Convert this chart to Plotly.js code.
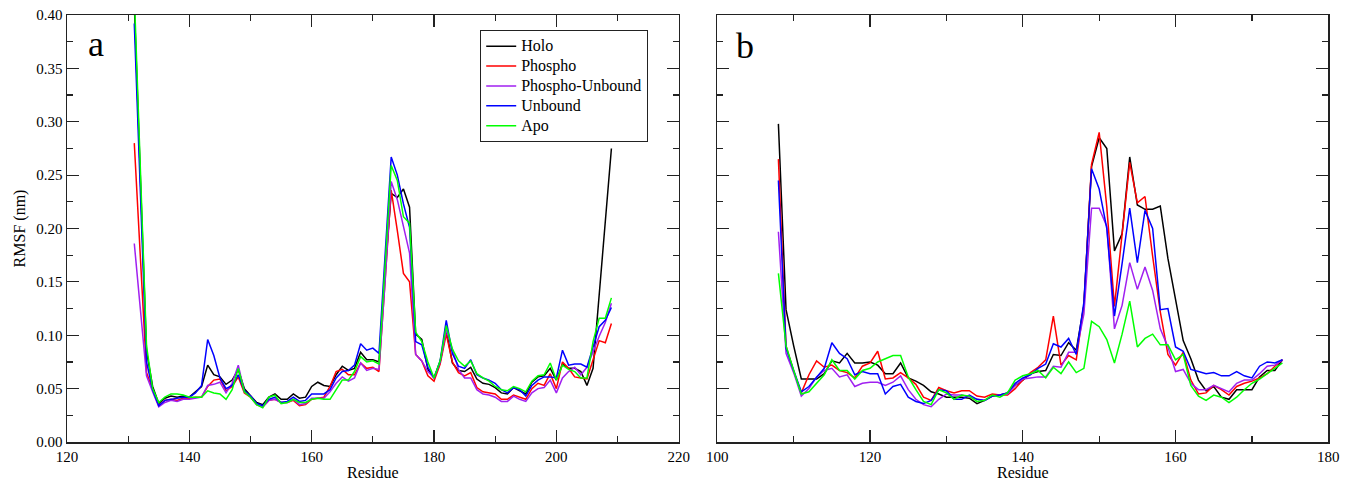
<!DOCTYPE html>
<html>
<head>
<meta charset="utf-8">
<script src="https://cdn.plot.ly/plotly-3.0.1.min.js"></script>
<style>
html,body{margin:0;padding:0;background:#fff;}
#chart{width:1349px;height:481px;}
svg text{font-family:"Liberation Serif","Times New Roman",serif !important;}
text.legendtext{font-size:16px !important;}
</style>
</head>
<body>
<div id="chart"></div>
<script>
// ---- Panel a: residues 131..209 ----
const firstResA = 131, lastResA = 209;
const holoA = [
  0.41, 0.24, 0.085, 0.052, 0.036, 0.041, 0.043, 0.042, 0.043, 0.042,
  0.047, 0.052, 0.072, 0.063, 0.061, 0.054, 0.058, 0.068, 0.050, 0.044,
  0.037, 0.035, 0.042, 0.045, 0.040, 0.040, 0.045, 0.041, 0.042, 0.052,
  0.056, 0.053, 0.052, 0.063, 0.071, 0.067, 0.069, 0.084, 0.077, 0.077,
  0.075, 0.160, 0.233, 0.229, 0.237, 0.220, 0.101, 0.096, 0.068, 0.060,
  0.075, 0.105, 0.074, 0.067, 0.066, 0.070, 0.059, 0.055, 0.054, 0.051,
  0.046, 0.045, 0.051, 0.048, 0.045, 0.056, 0.061, 0.062, 0.069, 0.058,
  0.073, 0.069, 0.069, 0.066, 0.053, 0.069, 0.135, 0.205, 0.275];
const phosphoA = [
  0.280, 0.17, 0.065, 0.049, 0.034, 0.039, 0.040, 0.039, 0.041, 0.041,
  0.042, 0.042, 0.052, 0.058, 0.059, 0.048, 0.052, 0.061, 0.046, 0.042,
  0.035, 0.033, 0.039, 0.040, 0.037, 0.037, 0.039, 0.034, 0.035, 0.040,
  0.041, 0.042, 0.052, 0.066, 0.068, 0.063, 0.063, 0.074, 0.069, 0.070,
  0.066, 0.150, 0.236, 0.198, 0.158, 0.150, 0.082, 0.076, 0.062, 0.057,
  0.073, 0.101, 0.075, 0.065, 0.062, 0.065, 0.051, 0.047, 0.046, 0.045,
  0.040, 0.040, 0.044, 0.042, 0.040, 0.050, 0.055, 0.053, 0.064, 0.050,
  0.075, 0.069, 0.061, 0.060, 0.059, 0.077, 0.095, 0.093, 0.111];
const phosphoUnA = [
  0.186, 0.12, 0.062, 0.047, 0.033, 0.037, 0.039, 0.038, 0.040, 0.040,
  0.041, 0.042, 0.053, 0.054, 0.056, 0.046, 0.055, 0.072, 0.047, 0.043,
  0.035, 0.033, 0.039, 0.040, 0.037, 0.037, 0.040, 0.035, 0.036, 0.041,
  0.041, 0.041, 0.047, 0.055, 0.061, 0.057, 0.060, 0.074, 0.067, 0.069,
  0.068, 0.150, 0.244, 0.227, 0.202, 0.177, 0.082, 0.076, 0.066, 0.060,
  0.075, 0.105, 0.087, 0.068, 0.060, 0.060, 0.049, 0.045, 0.044, 0.042,
  0.038, 0.038, 0.043, 0.040, 0.038, 0.046, 0.050, 0.051, 0.058, 0.046,
  0.060, 0.066, 0.070, 0.063, 0.070, 0.085, 0.099, 0.112, 0.130];
const unboundA = [
  0.392, 0.23, 0.075, 0.049, 0.034, 0.039, 0.040, 0.041, 0.042, 0.042,
  0.046, 0.053, 0.096, 0.081, 0.060, 0.050, 0.053, 0.063, 0.048, 0.043,
  0.036, 0.034, 0.040, 0.042, 0.037, 0.038, 0.042, 0.038, 0.039, 0.045,
  0.045, 0.045, 0.049, 0.060, 0.066, 0.067, 0.072, 0.092, 0.086, 0.088,
  0.083, 0.170, 0.267, 0.250, 0.223, 0.201, 0.094, 0.091, 0.070, 0.060,
  0.076, 0.114, 0.083, 0.071, 0.069, 0.077, 0.063, 0.060, 0.058, 0.055,
  0.049, 0.046, 0.051, 0.049, 0.043, 0.053, 0.058, 0.061, 0.061, 0.060,
  0.086, 0.072, 0.073, 0.073, 0.070, 0.089, 0.108, 0.114, 0.126];
const apoA = [
  0.42, 0.25, 0.090, 0.050, 0.037, 0.042, 0.045, 0.045, 0.044, 0.042,
  0.042, 0.042, 0.048, 0.046, 0.045, 0.040, 0.049, 0.069, 0.047, 0.042,
  0.035, 0.032, 0.042, 0.044, 0.036, 0.037, 0.040, 0.037, 0.037, 0.040,
  0.041, 0.040, 0.040, 0.049, 0.058, 0.058, 0.066, 0.080, 0.075, 0.076,
  0.073, 0.165, 0.259, 0.245, 0.211, 0.205, 0.103, 0.094, 0.075, 0.060,
  0.076, 0.109, 0.087, 0.076, 0.071, 0.076, 0.064, 0.060, 0.057, 0.052,
  0.049, 0.048, 0.052, 0.050, 0.047, 0.057, 0.062, 0.063, 0.074, 0.058,
  0.072, 0.068, 0.066, 0.060, 0.060, 0.094, 0.116, 0.116, 0.135];

// ---- Panel b: residues 108..174 ----
const firstResB = 108, lastResB = 174;
const holoB = [
  0.298, 0.124, 0.090, 0.059, 0.059, 0.059, 0.064, 0.076, 0.074, 0.083,
  0.074, 0.074, 0.075, 0.072, 0.064, 0.064, 0.074, 0.060, 0.057, 0.053,
  0.047, 0.045, 0.042, 0.042, 0.042, 0.041, 0.036, 0.039, 0.043, 0.044,
  0.046, 0.053, 0.058, 0.064, 0.066, 0.067, 0.082, 0.081, 0.093, 0.086,
  0.128, 0.258, 0.285, 0.275, 0.179, 0.195, 0.267, 0.222, 0.218, 0.218,
  0.221, 0.172, 0.133, 0.095, 0.078, 0.058, 0.048, 0.052, 0.042, 0.040,
  0.049, 0.049, 0.049, 0.061, 0.067, 0.067, 0.077];
const phosphoB = [
  0.265, 0.090, 0.066, 0.046, 0.063, 0.076, 0.070, 0.072, 0.067, 0.065,
  0.060, 0.071, 0.074, 0.085, 0.059, 0.060, 0.065, 0.060, 0.054, 0.042,
  0.039, 0.051, 0.048, 0.046, 0.048, 0.048, 0.043, 0.042, 0.045, 0.044,
  0.044, 0.050, 0.058, 0.065, 0.070, 0.077, 0.118, 0.072, 0.081, 0.077,
  0.128, 0.260, 0.290, 0.220, 0.127, 0.198, 0.262, 0.224, 0.230, 0.174,
  0.122, 0.082, 0.072, 0.084, 0.058, 0.045, 0.046, 0.053, 0.049, 0.044,
  0.052, 0.055, 0.057, 0.060, 0.064, 0.071, 0.077];
const phosphoUnB = [
  0.197, 0.083, 0.065, 0.043, 0.050, 0.061, 0.067, 0.069, 0.061, 0.063,
  0.052, 0.055, 0.056, 0.056, 0.053, 0.056, 0.062, 0.049, 0.040, 0.035,
  0.033, 0.040, 0.045, 0.044, 0.044, 0.042, 0.040, 0.039, 0.043, 0.044,
  0.045, 0.053, 0.059, 0.060, 0.061, 0.061, 0.071, 0.070, 0.084, 0.084,
  0.120, 0.219, 0.219, 0.202, 0.106, 0.128, 0.168, 0.143, 0.164, 0.142,
  0.106, 0.089, 0.066, 0.068, 0.055, 0.049, 0.049, 0.053, 0.050, 0.047,
  0.055, 0.058, 0.058, 0.064, 0.071, 0.072, 0.077];
const unboundB = [
  0.245, 0.088, 0.067, 0.047, 0.052, 0.060, 0.069, 0.093, 0.083, 0.078,
  0.063, 0.066, 0.064, 0.064, 0.045, 0.052, 0.054, 0.042, 0.038, 0.036,
  0.039, 0.049, 0.048, 0.040, 0.040, 0.044, 0.040, 0.039, 0.043, 0.044,
  0.046, 0.055, 0.060, 0.063, 0.069, 0.073, 0.092, 0.089, 0.097, 0.082,
  0.131, 0.256, 0.237, 0.200, 0.118, 0.167, 0.219, 0.168, 0.217, 0.200,
  0.124, 0.125, 0.089, 0.085, 0.068, 0.066, 0.064, 0.065, 0.062, 0.062,
  0.066, 0.062, 0.060, 0.071, 0.075, 0.074, 0.077];
const apoB = [
  0.158, 0.090, 0.067, 0.045, 0.047, 0.055, 0.063, 0.077, 0.067, 0.067,
  0.059, 0.067, 0.069, 0.075, 0.078, 0.081, 0.081, 0.061, 0.049, 0.038,
  0.035, 0.049, 0.046, 0.040, 0.044, 0.043, 0.038, 0.039, 0.044, 0.042,
  0.046, 0.058, 0.062, 0.064, 0.067, 0.060, 0.070, 0.064, 0.075, 0.065,
  0.069, 0.113, 0.108, 0.096, 0.074, 0.101, 0.132, 0.089, 0.097, 0.101,
  0.091, 0.091, 0.077, 0.082, 0.053, 0.043, 0.039, 0.044, 0.042, 0.037,
  0.042, 0.049, 0.055, 0.059, 0.064, 0.069, 0.074];

const seriesNames = ["Holo", "Phospho", "Phospho-Unbound", "Unbound", "Apo"];
const seriesColors = ["#000000", "#ff0000", "#a020f0", "#0000ff", "#00ff00"];
const yTickVals = [0, 0.05, 0.10, 0.15, 0.20, 0.25, 0.30, 0.35, 0.40];
const yTickText = ["0.00", "0.05", "0.10", "0.15", "0.20", "0.25", "0.30", "0.35", "0.40"];

function residues(a, b) { const r = []; for (let i = a; i <= b; i++) r.push(i); return r; }
const resA = residues(firstResA, lastResA);
const resB = residues(firstResB, lastResB);
const dataA = [holoA, phosphoA, phosphoUnA, unboundA, apoA];
const dataB = [holoB, phosphoB, phosphoUnB, unboundB, apoB];

const traces = [];
dataA.forEach((ys, i) => traces.push({
  x: resA, y: ys, type: "scatter", mode: "lines", name: seriesNames[i],
  line: {color: seriesColors[i], width: 1.5}, xaxis: "x", yaxis: "y", legendrank: i + 1
}));
dataB.forEach((ys, i) => traces.push({
  x: resB, y: ys, type: "scatter", mode: "lines", name: seriesNames[i], showlegend: false,
  line: {color: seriesColors[i], width: 1.5}, xaxis: "x2", yaxis: "y2"
}));

const W = 1349, H = 481, T = 15, B = 39;
const ph = H - T - B;
const serif = "Liberation Serif";
const axisCommon = {
  showgrid: false, zeroline: false, showline: true, linecolor: "#222", linewidth: 1.5,
  mirror: "allticks", ticks: "inside", ticklen: 12, tickwidth: 1.2, tickcolor: "#222",
  tickfont: {family: serif, size: 15, color: "#000"}, automargin: false
};
const layout = {
  width: W, height: H,
  font: {family: serif},
  margin: {l: 0, r: 0, t: T, b: B},
  paper_bgcolor: "#fff", plot_bgcolor: "#fff",
  showlegend: true,
  legend: {
    x: 480 / W, y: (442 - 30) / ph, xanchor: "left", yanchor: "top",
    bgcolor: "#fff", bordercolor: "#222", borderwidth: 1.2,
    font: {family: serif, size: 13, color: "#000"}, tracegroupgap: 0, itemwidth: 30
  },
  xaxis: Object.assign({}, axisCommon, {
    domain: [67 / W, 678.7 / W], range: [120, 220], anchor: "y",
    tickvals: [120, 140, 160, 180, 200, 220],
    minor: {ticks: "inside", tickvals: [130, 150, 170, 190, 210], ticklen: 6, tickcolor: "#222", tickwidth: 1.2},
    title: {text: "Residue", font: {family: serif, size: 16, color: "#000"}, standoff: 4}
  }),
  yaxis: Object.assign({}, axisCommon, {
    domain: [0, 1], range: [0, 0.4], anchor: "x",
    tickvals: yTickVals, ticktext: yTickText,
    minor: {ticks: "inside", dtick: 0.025, ticklen: 6, tickcolor: "#222", tickwidth: 1.2},
    title: {text: "RMSF (nm)", font: {family: serif, size: 16, color: "#000"}, standoff: 6}
  }),
  xaxis2: Object.assign({}, axisCommon, {
    domain: [717.3 / W, 1328.3 / W], range: [100, 180], anchor: "y2",
    tickvals: [100, 120, 140, 160, 180],
    minor: {ticks: "inside", tickvals: [110, 130, 150, 170], ticklen: 6, tickcolor: "#222", tickwidth: 1.2},
    title: {text: "Residue", font: {family: serif, size: 16, color: "#000"}, standoff: 4}
  }),
  yaxis2: Object.assign({}, axisCommon, {
    domain: [0, 1], range: [0, 0.4], anchor: "x2",
    tickvals: yTickVals, showticklabels: false,
    minor: {ticks: "inside", dtick: 0.025, ticklen: 6, tickcolor: "#222", tickwidth: 1.2}
  }),
  annotations: [
    {text: "a", xref: "paper", yref: "paper", x: 86 / W, y: (442 - 22) / ph, showarrow: false,
     font: {family: serif, size: 36, color: "#000"}},
    {text: "b", xref: "paper", yref: "paper", x: 745 / W, y: (442 - 24) / ph, showarrow: false,
     font: {family: serif, size: 36, color: "#000"}}
  ]
};
Plotly.newPlot("chart", traces, layout, {displayModeBar: false, staticPlot: true});
</script>
</body>
</html>
